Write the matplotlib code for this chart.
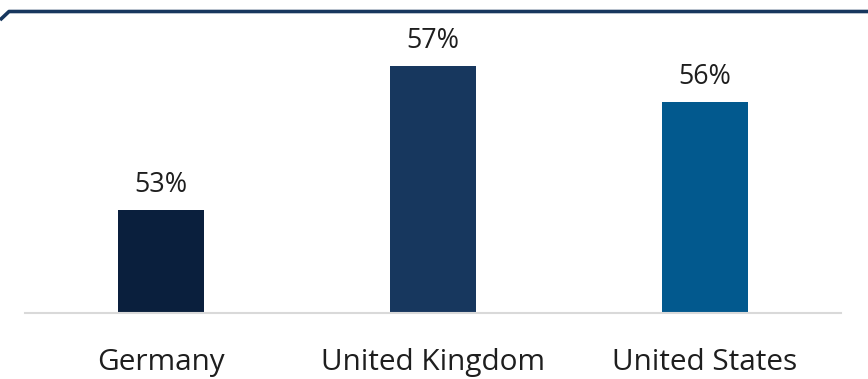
import matplotlib.pyplot as plt
from matplotlib.lines import Line2D

countries = ['Germany', 'United Kingdom', 'United States']
shares = [53, 57, 56]
bar_colors = ['#0a1f3d', '#17375e', '#02598e']

plt.rcParams['font.family'] = ['Open Sans', 'DejaVu Sans']

W, H = 868, 379
fig = plt.figure(figsize=(W / 100, H / 100), dpi=100)
renderer = fig.canvas.get_renderer()

def fit_size(txt, target_px, start=16):
    # pick a font size so that txt is about target_px wide
    t = fig.text(0, 0, txt, fontsize=start)
    w = t.get_window_extent(renderer).width
    t.remove()
    return start * target_px / w

val_size = fit_size('57%', 53)
cat_size = fit_size('United Kingdom', 225)

# axes placed in pixel terms (x 25..841, y 20..313 from top)
ax = fig.add_axes([25 / W, (H - 313) / H, 816 / W, 293 / H])
x = range(len(countries))
bars = ax.bar(x, shares, width=0.316, color=bar_colors, zorder=2)

ax.set_xlim(-0.5, 2.5)
ax.set_ylim(50.14, 58.28)

for b, v in zip(bars, shares):
    ax.annotate('{}%'.format(v), (b.get_x() + b.get_width() / 2, v),
                xytext=(0, 18 * 0.72), textcoords='offset points',
                ha='center', va='baseline', fontsize=val_size, color='#1e1e1e')

ax.set_xticks(list(x))
ax.set_xticklabels(countries, fontsize=cat_size, color='#1e1e1e')
for lab in ax.get_xticklabels():
    lab.set_va('baseline')
ax.tick_params(axis='x', length=0, pad=57 * 0.72)
ax.set_yticks([])
for s in ['top', 'left', 'right']:
    ax.spines[s].set_visible(False)
ax.spines['bottom'].set_color('#d9d9d9')
ax.spines['bottom'].set_linewidth(1.5)

# frame line across the top with a cut corner at the left
fx = [0, 9 / W, 1]
fy = [1 - 20 / H, 1 - 11.5 / H, 1 - 11.5 / H]
fig.add_artist(Line2D(fx, fy, transform=fig.transFigure, color='#17375e',
                      linewidth=2.6, solid_capstyle='butt'))

fig.savefig('out.png', dpi=100)
